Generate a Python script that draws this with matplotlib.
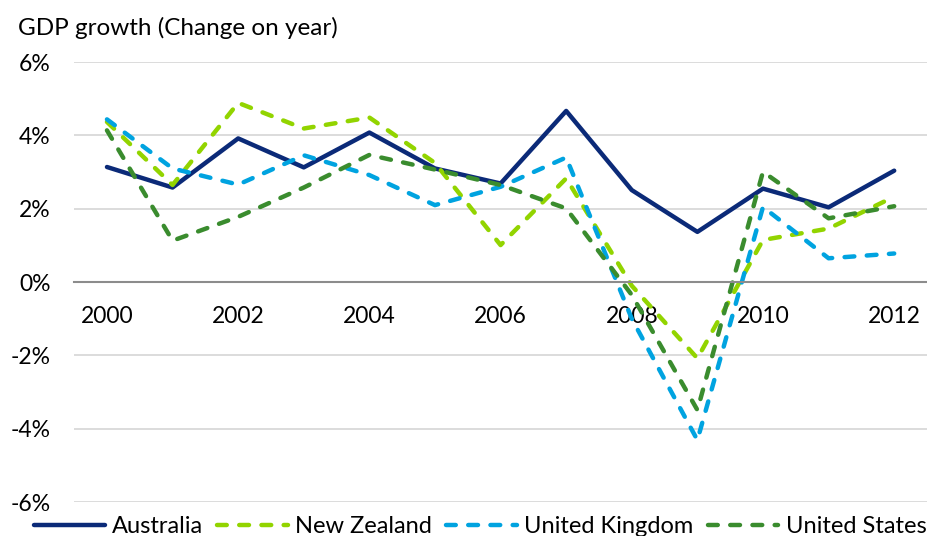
import numpy as np
import matplotlib.pyplot as plt

plt.rcParams['font.family'] = ['Lato', 'DejaVu Sans']

# Datos (% de cambio anual del PIB)
years = [2000, 2001, 2002, 2003, 2004, 2005, 2006, 2007, 2008, 2009, 2010, 2011, 2012]
australia = [3.14, 2.58, 3.92, 3.13, 4.08, 3.10, 2.69, 4.67, 2.51, 1.37, 2.55, 2.04, 3.04]
new_zealand = [4.37, 2.65, 4.89, 4.19, 4.49, 3.25, 1.01, 2.83, -0.10, -2.08, 1.15, 1.46, 2.33]
united_kingdom = [4.44, 3.10, 2.66, 3.46, 2.92, 2.10, 2.60, 3.40, -1.00, -4.31, 2.05, 0.65, 0.78]
united_states = [4.14, 1.13, 1.78, 2.58, 3.47, 3.07, 2.65, 2.01, -0.35, -3.49, 3.01, 1.74, 2.07]
yticks = [-6, -4, -2, 0, 2, 4, 6]

fig = plt.figure(figsize=(9.27, 5.36), dpi=100)
ax = fig.add_axes([0.08, 0.0634, 0.92, 0.8206])

x = np.arange(len(years))
dash = (2.2, 2.8)
ax.plot(x, australia, color='#0B2A78', lw=3.2, solid_capstyle='round', label='Australia')
ax.plot(x, new_zealand, color='#92D400', lw=3.2, dashes=dash, dash_capstyle='round', label='New Zealand')
ax.plot(x, united_kingdom, color='#00A3E0', lw=3.2, dashes=dash, dash_capstyle='round', label='United Kingdom')
ax.plot(x, united_states, color='#3A8C2E', lw=3.2, dashes=dash, dash_capstyle='round', label='United States')

ax.set_xlim(-0.5, len(years) - 0.5)
ax.set_ylim(-6, 6)
ax.set_yticks(yticks)
ax.set_yticklabels([f'{v}%' for v in yticks])
ax.set_xticks(x[::2])
ax.set_xticklabels([str(y) for y in years[::2]])
ax.grid(axis='y', color='#D9D9D9', lw=1.3)
ax.set_axisbelow(True)

for s in ['top', 'right', 'left']:
    ax.spines[s].set_visible(False)
ax.spines['bottom'].set_position(('data', 0))
ax.spines['bottom'].set_color('#8C8C8C')
ax.spines['bottom'].set_linewidth(1.5)
ax.tick_params(axis='both', length=0, labelsize=16.5)
ax.tick_params(axis='x', pad=17)
ax.tick_params(axis='y', pad=17)

fig.text(0.019, 0.947, 'GDP growth (Change on year)', fontsize=17.5, va='center', ha='left')

fig.legend(loc='center', bbox_to_anchor=(0.518, 0.018), ncol=4, frameon=False,
           fontsize=17, handlelength=3.0, handletextpad=0.3, columnspacing=0.6)

plt.savefig('out.png', dpi=100)
